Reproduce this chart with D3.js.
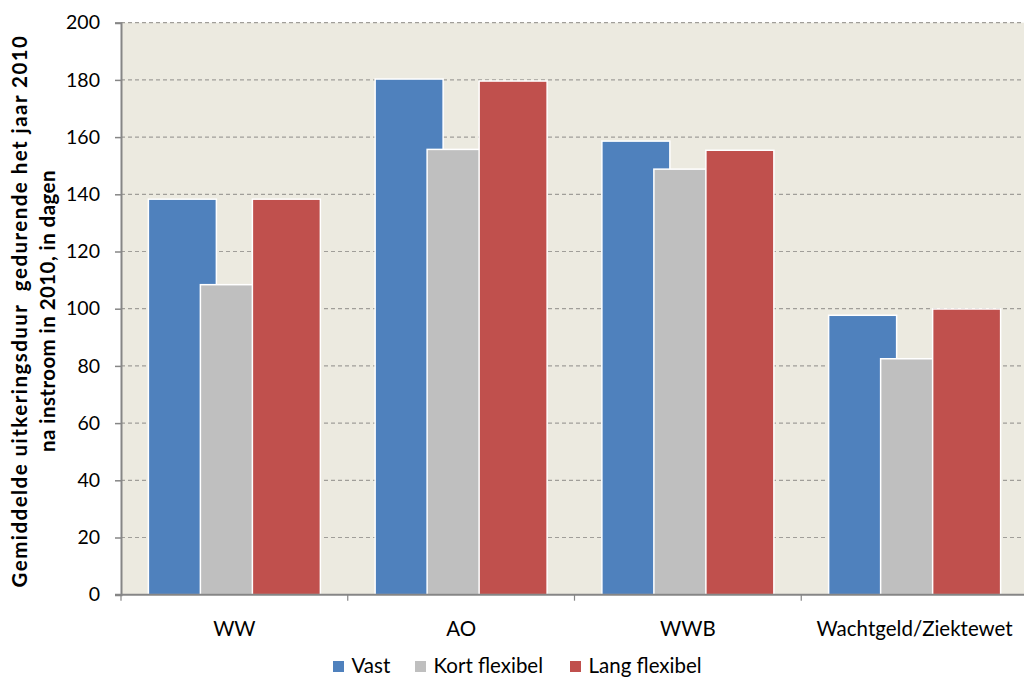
<!DOCTYPE html>
<html><head><meta charset="utf-8">
<script src="https://cdn.jsdelivr.net/npm/d3@7"></script>
<style>body{margin:0;background:#fff}svg{display:block}text{font-family:Lato,"Open Sans",sans-serif;fill:#000}</style>
</head><body><svg id="c" width="1024" height="678"></svg>
<script>
const categories = ["WW", "AO", "WWB", "Wachtgeld/Ziektewet"];
const seriesNames = ["Vast", "Kort flexibel", "Lang flexibel"];
const vast = [138.3, 180.3, 158.6, 97.7];
const kort = [108.4, 155.7, 148.8, 82.5];
const lang = [138.3, 179.6, 155.4, 99.9];
const yTicks = [0, 20, 40, 60, 80, 100, 120, 140, 160, 180, 200];
const colors = ["#4F81BD", "#BFBFBF", "#C0504D"];
const seriesValues = [vast, kort, lang];

const svg = d3.select("#c");
const L = 121, R = 1028, T = 22.7, B = 594.7;
const x = d3.scaleBand().domain(categories).range([L, R]);
const y = d3.scaleLinear().domain([0, 200]).range([B, T]);

svg.append("rect").attr("x", L).attr("y", T).attr("width", R - L).attr("height", B - T).attr("fill", "#ECEAE0");

// gridlines
svg.append("g").selectAll("line").data(yTicks.filter(d => d > 0)).join("line")
  .attr("x1", L).attr("x2", R).attr("y1", d => y(d)).attr("y2", d => y(d))
  .attr("stroke", "#A09E99").attr("stroke-width", 1.2).attr("stroke-dasharray", "4,3");

// bars
const cw = x.bandwidth();
const barW = 68, step = 52;
const groupW = step * 2 + barW;
seriesValues.forEach((vals, si) => {
  svg.append("g").selectAll("rect").data(vals).join("rect")
    .attr("x", (d, i) => x(categories[i]) + (cw - groupW) / 2 + si * step)
    .attr("y", d => y(d))
    .attr("width", barW)
    .attr("height", d => B - y(d))
    .attr("fill", colors[si])
    .attr("stroke", "#fff").attr("stroke-width", 1.5);
});

// y axis
const yAxis = d3.axisLeft(y).tickValues(yTicks).tickSize(6).tickPadding(15);
const gy = svg.append("g").attr("transform", `translate(${L},0)`).call(yAxis);
gy.select(".domain").attr("stroke", "#868686").attr("stroke-width", 2);
gy.selectAll(".tick line").attr("stroke", "#868686").attr("stroke-width", 1.5);
gy.selectAll(".tick text").attr("font-size", 19.5).attr("font-family", "Lato, sans-serif").attr("fill", "#000");

// x axis
const gx = svg.append("g").attr("transform", `translate(0,${B})`);
gx.append("line").attr("x1", L - 6).attr("x2", R).attr("y1", 0).attr("y2", 0).attr("stroke", "#868686").attr("stroke-width", 2);
const bounds = categories.map(c => x(c)).concat([R]);
gx.selectAll("line.t").data(bounds).join("line").attr("class", "t")
  .attr("x1", d => d).attr("x2", d => d).attr("y1", 0).attr("y2", 6)
  .attr("stroke", "#868686").attr("stroke-width", 1.2);
gx.selectAll("text").data(categories).join("text")
  .attr("x", d => x(d) + cw / 2).attr("y", 41).attr("text-anchor", "middle")
  .attr("font-size", 20.5).text(d => d);

// y title
const yt = svg.append("text").attr("transform", "translate(0,311) rotate(-90)")
  .attr("text-anchor", "middle").attr("font-size", 20.5).attr("font-weight", "bold")
  .attr("font-family", "'Open Sans', sans-serif").style("white-space", "pre");
const t1 = yt.append("tspan").attr("x", 0).attr("y", 27).text("Gemiddelde uitkeringsduur  gedurende het jaar 2010");
const t2 = yt.append("tspan").attr("x", 0).attr("y", 54.5).text("na instroom in 2010, in dagen");
[[t1, 553], [t2, 282]].forEach(([t, target]) => {
  const len = t.node().getComputedTextLength();
  const n = t.text().length;
  t.attr("letter-spacing", ((target - len) / n).toFixed(2));
});

// legend
const legX = [333, 415, 570];
const lg = svg.append("g");
seriesNames.forEach((n, i) => {
  lg.append("rect").attr("x", legX[i]).attr("y", 661).attr("width", 11).attr("height", 11).attr("fill", colors[i]);
  lg.append("text").attr("x", legX[i] + 18.5).attr("y", 672.5).attr("font-size", 20.5).text(n);
});
</script></body></html>
